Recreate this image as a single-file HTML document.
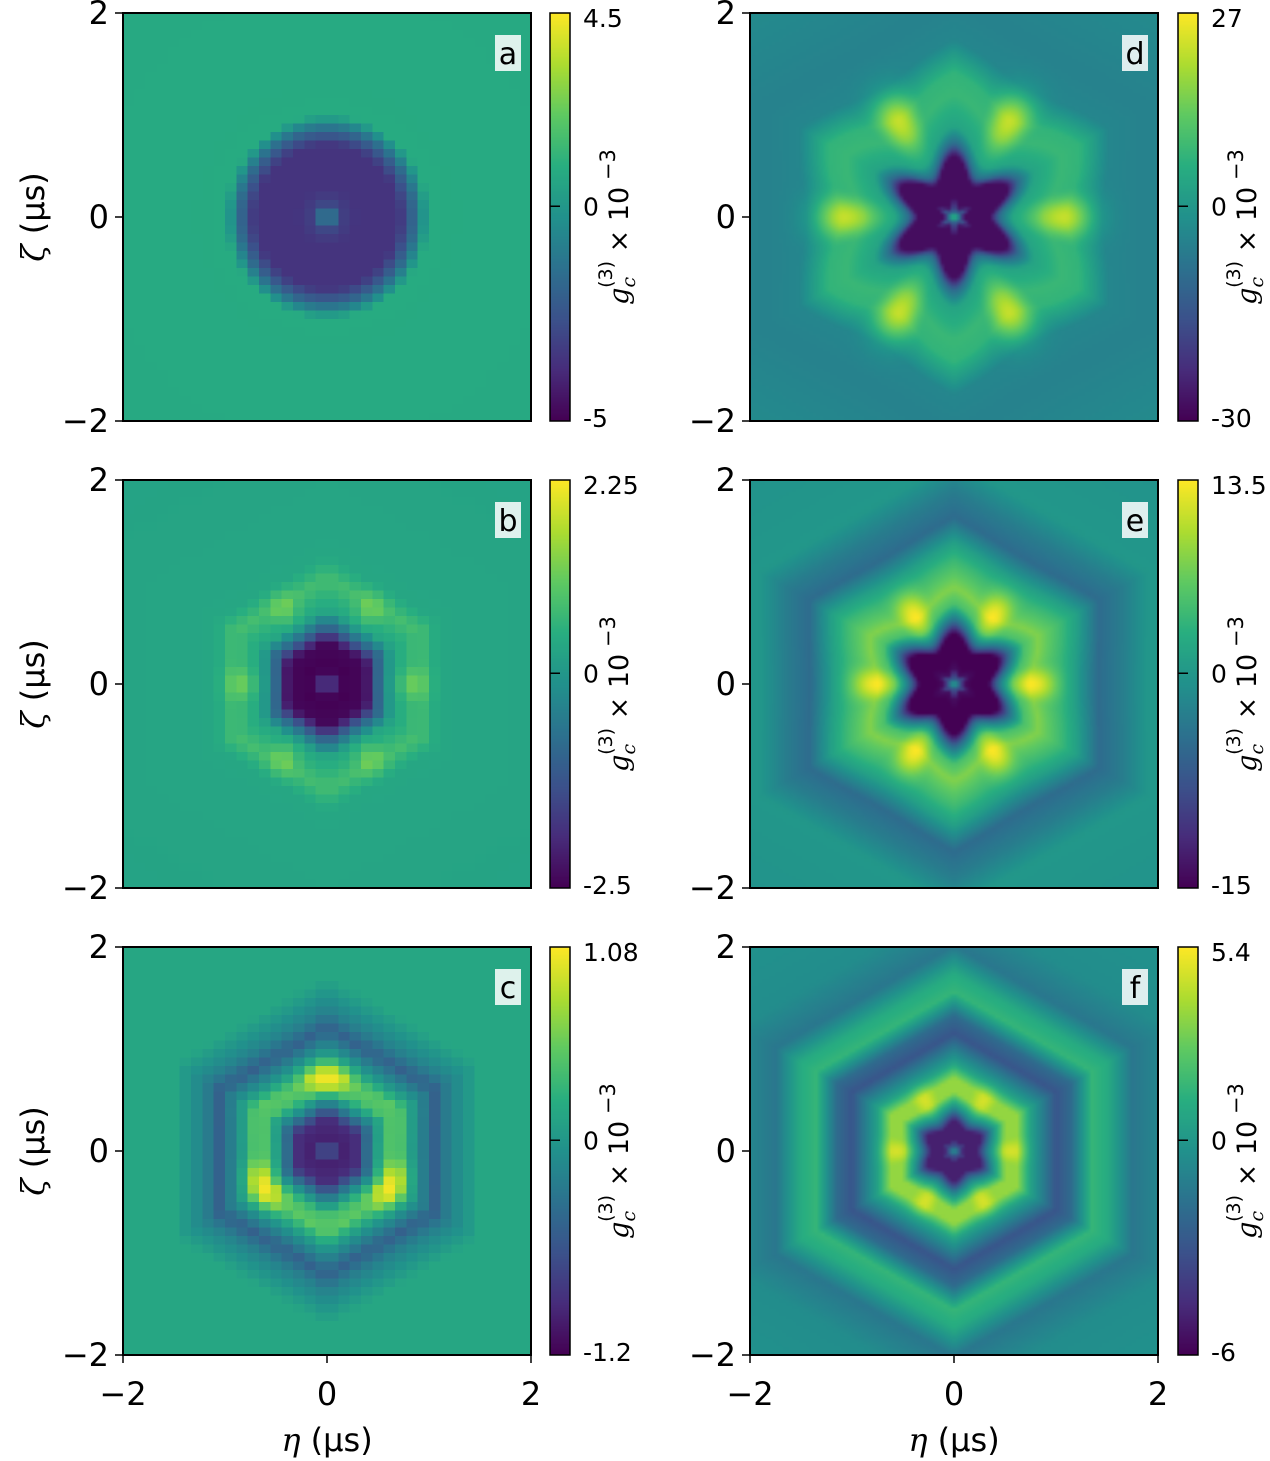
<!DOCTYPE html>
<html><head><meta charset="utf-8">
<style>
body{margin:0;background:#fff;width:1270px;height:1461px;position:relative;overflow:hidden;font-family:"DejaVu Sans","Liberation Sans",sans-serif}
canvas{position:absolute}
svg{position:absolute;left:0;top:0;font-family:"DejaVu Sans","Liberation Sans",sans-serif}
</style></head>
<body>
<div id="root"></div>
<svg id="ov" width="1270" height="1461"></svg>
<script>
// Panel data: radial profiles (effective radius in µs -> value ×10^-3)
const panelIds=['a','b','c','d','e','f'];
const vmin=[-5,-2.5,-1.2,-30,-15,-6];
const vmax=[4.5,2.25,1.08,27,13.5,5.4];
const cbTopLabel=['4.5','2.25','1.08','27','13.5','5.4'];
const cbBotLabel=['-5','-2.5','-1.2','-30','-15','-6'];
const starMod=[0,0.04,0.05,0.3,0.22,0.2];
const starWidth=[100,0.3,0.3,1.0,0.6,0.1];
const spotR=[1,0.85,0.7,1.1,0.8,0.57];
const spotW=[0.18,0.15,0.15,0.3,0.22,0.14];
const spotAmp=[0,0.5,0.6,15,6,1.2];
const spotFold=[6,6,3,6,6,6];
const spotPhaseDeg=[0,0,90,0,0,0];
const profR_a=[0,0.15,0.3,0.7,0.85,1.0,3.6];
const profV_a=[-0.5,-3.2,-3.6,-3.6,-1.8,0.8,0.7];
const profR_b=[0,0.1,0.2,0.38,0.5,0.65,0.9,1.1,3.6];
const profV_b=[-1,-2.4,-2.5,-2.4,-1,0.3,0.8,0.3,0.2];
const profR_c=[0,0.08,0.15,0.3,0.42,0.58,0.7,0.85,1.05,1.2,1.5,3.6];
const profV_c=[0,-0.9,-1,-0.9,-0.3,0.4,0.5,0,-0.5,-0.2,0.15,0.15];
const profR_d=[0,0.04,0.08,0.14,0.45,0.55,0.7,1.0,1.2,1.5,1.85,3.6];
const profV_d=[12,-5,-20,-28,-28,-10,3,8,7,-4,-5,-1];
const profR_e=[0,0.06,0.12,0.2,0.4,0.5,0.65,0.8,1.05,1.2,1.42,1.65,1.9,3.6];
const profV_e=[2,-8,-14,-15,-15,-5,5,8,4,1,-5,-3,0,-1];
const profR_f=[0,0.05,0.1,0.25,0.35,0.5,0.62,0.75,1.0,1.15,1.35,1.5,1.75,2.1,3.6];
const profV_f=[0,-3,-5,-5,-1,3.5,3.5,0.5,-3,-2,1.5,1,-1.5,-0.5,0];
const profR=[profR_a,profR_b,profR_c,profR_d,profR_e,profR_f];
const profV=[profV_a,profV_b,profV_c,profV_d,profV_e,profV_f];
const gridCols=[36,36,36,120,120,120];
const gridRows=[48,48,48,120,120,120];
const xTicks=[-2,0,2];
const xTickLabels=['\u22122','0','2'];

const vir=['#440154','#472d7b','#3b528b','#2c728e','#21918c','#28ae80','#5ec962','#addc30','#fde725'];
function hex(c){return [parseInt(c.substr(1,2),16),parseInt(c.substr(3,2),16),parseInt(c.substr(5,2),16)];}
const virRGB=vir.map(hex);
function cmap(t){t=Math.max(0,Math.min(1,t));const p=t*8,i=Math.min(7,Math.floor(p)),f=p-i;const a=virRGB[i],b=virRGB[i+1];return [a[0]+(b[0]-a[0])*f,a[1]+(b[1]-a[1])*f,a[2]+(b[2]-a[2])*f];}
function interp(rs,vs,r){if(r<=rs[0])return vs[0];for(let i=1;i<rs.length;i++){if(r<=rs[i]){const f=(r-rs[i-1])/(rs[i]-rs[i-1]);return vs[i-1]+(vs[i]-vs[i-1])*f;}}return vs[vs.length-1];}
const c30=Math.cos(Math.PI/6);
function hexDist(X,Y){return Math.max(Math.abs(X),Math.abs(X*0.5+Y*c30),Math.abs(X*0.5-Y*c30));}
function field(p,X,Y){
  const rr=Math.hypot(X,Y), th=Math.atan2(Y,X);
  const g=Math.exp(-rr*rr/starWidth[p]);
  const rStar=rr*(1+starMod[p]*Math.cos(6*th));
  const h=p===0?rr:hexDist(X,Y);
  const re=g*rStar+(1-g)*h;
  let v=interp(profR[p],profV[p],re);
  const ph=spotPhaseDeg[p]*Math.PI/180;
  const d=(rr-spotR[p])/spotW[p];
  v+=spotAmp[p]*Math.pow(Math.max(0,Math.cos(spotFold[p]*(th-ph))),2)*Math.exp(-d*d);
  return v;
}

const col=[{x:123,cb:550},{x:750,cb:1178}];
const rowY=[13,480,947];
const W=408,H=408;
const svg=document.getElementById('ov');
const NS='http://www.w3.org/2000/svg';
function mk(tag,attrs,txt){const e=document.createElementNS(NS,tag);for(const k in attrs)e.setAttribute(k,attrs[k]);if(txt!==undefined)e.textContent=txt;svg.appendChild(e);return e;}

panelIds.forEach((id,p)=>{
  const c=p<3?0:1, r=p%3;
  const x0=col[c].x,y0=rowY[r];
  const xs=v=>x0+(v+2)/4*W, ys=v=>y0+(2-v)/4*H;
  const cv=document.createElement('canvas');
  
  
  const nc=gridCols[p],nr=gridRows[p];
  cv.width=nc;cv.height=nr;
  cv.style.left=x0+'px';cv.style.top=y0+'px';cv.style.width=W+'px';cv.style.height=H+'px';
  if(p<3)cv.style.imageRendering='pixelated';
  const ctx=cv.getContext('2d');const img=ctx.createImageData(nc,nr);
  for(let j=0;j<nr;j++)for(let i=0;i<nc;i++){
    const X=-2+(i+0.5)/nc*4, Y=2-(j+0.5)/nr*4;
    const v=field(p,X,Y);
    const rgb=cmap((v-vmin[p])/(vmax[p]-vmin[p]));
    const k=(j*nc+i)*4;img.data[k]=rgb[0];img.data[k+1]=rgb[1];img.data[k+2]=rgb[2];img.data[k+3]=255;
  }
  ctx.putImageData(img,0,0);
  document.body.insertBefore(cv,svg);
  const cb=document.createElement('canvas');
  
  
  cb.width=1;cb.height=256;cb.style.left=col[c].cb+'px';cb.style.top=y0+'px';cb.style.width='20px';cb.style.height=H+'px';
  const cx=cb.getContext('2d');const ci=cx.createImageData(1,256);
  for(let j=0;j<256;j++){const rgb=cmap(1-j/255);ci.data[j*4]=rgb[0];ci.data[j*4+1]=rgb[1];ci.data[j*4+2]=rgb[2];ci.data[j*4+3]=255;}
  cx.putImageData(ci,0,0);document.body.insertBefore(cb,svg);
  const cbx=col[c].cb;
  mk('rect',{x:cbx,y:y0,width:20,height:H,fill:'none',stroke:'#000','stroke-width':1.5,});
  const zy=y0+vmax[p]/(vmax[p]-vmin[p])*H;
  mk('line',{x1:cbx,x2:cbx+10,y1:zy,y2:zy,stroke:'#000','stroke-width':1.5});
  [[y0+5,cbTopLabel[p]],[zy,'0'],[y0+H-3,cbBotLabel[p]]].forEach(([yy,t])=>{
    mk('text',{x:cbx+33,y:yy+9,'font-size':25,},t);
  });
  const lt=mk('text',{x:0,y:0,'font-size':27,transform:`translate(${cbx+78},${y0+H/2+10}) rotate(-90)`,'text-anchor':'middle',});
  lt.innerHTML='<tspan font-family="DejaVu Serif" font-style="italic">g</tspan><tspan font-size="19" font-style="italic" font-family="DejaVu Serif" dy="7">c</tspan><tspan font-size="19" dy="-23" dx="-11">(3)</tspan><tspan dy="16">  × 10</tspan><tspan font-size="21" dy="-13"> −3</tspan>';
  mk('rect',{x:x0,y:y0,width:W,height:H,fill:'none',stroke:'#000','stroke-width':2,});
  xTicks.forEach((v,k)=>{
    mk('line',{x1:x0-8,x2:x0,y1:ys(v),y2:ys(v),stroke:'#000','stroke-width':1.5});
    mk('text',{x:x0-14,y:ys(v)+11,'font-size':32,'text-anchor':'end',},xTickLabels[k]);
  });
  if(r===2){xTicks.forEach((v,k)=>{
    mk('line',{x1:xs(v),x2:xs(v),y1:y0+H,y2:y0+H+8,stroke:'#000','stroke-width':1.5});
    mk('text',{x:xs(v),y:y0+H+50,'font-size':32,'text-anchor':'middle',},xTickLabels[k]);
  });
    const xl=mk('text',{x:x0+W/2,y:y0+H+96,'font-size':32,'text-anchor':'middle',});
    xl.innerHTML='<tspan font-family="DejaVu Serif" font-style="italic">η</tspan> (µs)';
  }
  if(c===0){
    const yl=mk('text',{x:0,y:0,'font-size':32,'text-anchor':'middle',transform:`translate(44,${y0+H/2}) rotate(-90)`,});
    yl.innerHTML='<tspan font-family="DejaVu Serif" font-style="italic">ζ</tspan> (µs)';
  }
  mk('rect',{x:x0+W-36,y:y0+22,width:26,height:36,fill:'#fff',opacity:0.85,});
  mk('text',{x:x0+W-23,y:y0+51,'font-size':30,'text-anchor':'middle',},id);
});
</script>
</body></html>
